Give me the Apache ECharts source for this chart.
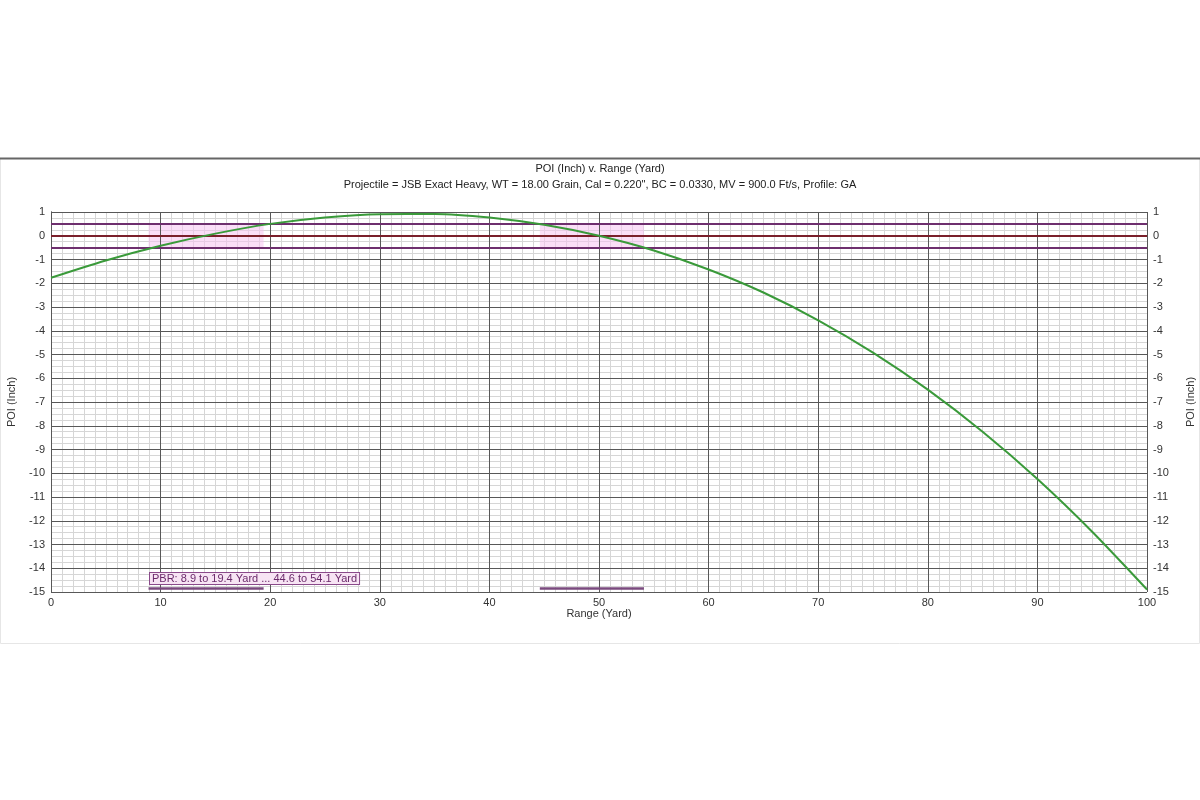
<!DOCTYPE html>
<html>
<head>
<meta charset="utf-8">
<script src="https://cdn.jsdelivr.net/npm/echarts@6/dist/echarts.min.js"></script>
<style>
html,body{margin:0;padding:0;background:#fff;}
#chart{width:1200px;height:800px;}
</style>
</head>
<body>
<div id="chart"></div>
<script>
// ---- data ----
const rangeYards = [0,5,10,15,20,25,30,35,40,45,50,55,60,65,70,75,80,85,90,95,100];
const poiInches  = [-1.77,-1.04,-0.42,0.09,0.50,0.77,0.91,0.92,0.77,0.46,0.0,-0.62,-1.42,-2.39,-3.56,-4.92,-6.48,-8.25,-10.24,-12.46,-14.9];
const pbrRanges  = [[8.9,19.4],[44.6,54.1]];
const pbrBand    = [-0.5,0.5];
const xTicks     = {min:0,max:100,step:10};
const yTicks     = {min:-15,max:1,step:1};
const titleText  = 'POI (Inch) v. Range (Yard)';
const subText    = 'Projectile = JSB Exact Heavy, WT = 18.00 Grain, Cal = 0.220", BC = 0.0330, MV = 900.0 Ft/s, Profile: GA';

const chart = echarts.init(document.getElementById('chart'), null, {renderer:'canvas'});
const font = 'Liberation Sans, Arial, sans-serif';
const pbrLabel = 'PBR: ' + pbrRanges.map(r => r[0].toFixed(1)+' to '+r[1].toFixed(1)+' Yard').join(' ... ');
const majorColor = '#585858';
const minorColor = '#d6d6d6';

const yBase = {
  type:'value', min:yTicks.min, max:yTicks.max, interval:yTicks.step,
  axisTick:{show:false},
  axisLabel:{color:'#333', fontSize:11, fontFamily:font, margin:6},
  nameTextStyle:{color:'#333', fontSize:11, fontFamily:font},
  nameLocation:'middle', nameRotate:90
};

chart.setOption({
  animation:false,
  backgroundColor:'#fff',
  title:[
    {text:titleText, left:'center', top:158, textStyle:{fontSize:11, fontWeight:'normal', color:'#222', fontFamily:font}},
    {text:subText, left:'center', top:174, textStyle:{fontSize:11, fontWeight:'normal', color:'#222', fontFamily:font}}
  ],
  graphic:[
    {type:'rect', left:0, top:158, z:-10, shape:{width:1199, height:485}, style:{fill:'#fff', stroke:'#e6e6e6', lineWidth:1}},
    {type:'line', z:-9, shape:{x1:0,y1:158.5,x2:1200,y2:158.5}, style:{stroke:'#666', lineWidth:2}},
    {type:'text', left:149, top:572, z:100,
      style:{text:pbrLabel, fill:'#6b2a6b', font:'11px '+font, backgroundColor:'#f7e4f4', borderColor:'#8a4a8a', borderWidth:1, padding:[0,2,0,2]}}
  ],
  grid:{left:51, right:53, top:212, bottom:208, containLabel:false, outerBoundsMode:'none'},
  xAxis:[
    {
      type:'value', min:xTicks.min, max:xTicks.max, interval:xTicks.step, position:'bottom', z:0,
      name:'Range (Yard)', nameLocation:'middle', nameGap:16,
      nameTextStyle:{color:'#333', fontSize:11, fontFamily:font},
      axisLine:{show:false},
      axisTick:{show:false},
      axisLabel:{color:'#333', fontSize:11, fontFamily:font, margin:5},
      splitLine:{show:false},
      minorTick:{show:false, splitNumber:10},
      minorSplitLine:{show:true, lineStyle:{color:minorColor, width:1}}
    },
    {
      type:'value', min:xTicks.min, max:xTicks.max, interval:xTicks.step, position:'top', z:3,
      axisLine:{show:false}, axisTick:{show:false}, axisLabel:{show:false},
      splitLine:{show:true, lineStyle:{color:majorColor, width:1}}
    }
  ],
  yAxis:[
    Object.assign({}, yBase, {position:'left', nameGap:34, name:'POI (Inch)', z:0,
      axisLine:{show:false},
      splitLine:{show:false},
      minorTick:{show:false, splitNumber:4},
      minorSplitLine:{show:true, lineStyle:{color:minorColor, width:1}}}),
    Object.assign({}, yBase, {position:'right', nameGap:38, name:'POI (Inch)', z:3,
      axisLine:{show:true, lineStyle:{color:majorColor}},
      splitLine:{show:true, lineStyle:{color:majorColor, width:1}}}),
    Object.assign({}, yBase, {position:'left', z:3, axisLabel:{show:false},
      axisLine:{show:true, lineStyle:{color:majorColor}}, splitLine:{show:false}})
  ],
  series:[
    {
      type:'line', xAxisIndex:0, yAxisIndex:0,
      data: rangeYards.map((x,i)=>[x, poiInches[i]]),
      smooth:0.3, showSymbol:false,
      lineStyle:{color:'#3a9a3a', width:2},
      z:10,
      markArea:{
        silent:true,
        itemStyle:{color:'rgba(245,195,240,0.55)'},
        data: pbrRanges.map(r => [{xAxis:r[0], yAxis:pbrBand[0]},{xAxis:r[1], yAxis:pbrBand[1]}])
      },
      markLine:{
        silent:true, symbol:'none', label:{show:false},
        data:[
          {yAxis:pbrBand[1], lineStyle:{color:'#6e2f6e', width:2, type:'solid'}},
          {yAxis:0, lineStyle:{color:'#7a1f2a', width:2, type:'solid'}},
          {yAxis:pbrBand[0], lineStyle:{color:'#6e2f6e', width:2, type:'solid'}}
        ].concat(pbrRanges.map(r => [
          {coord:[r[0], -14.85], lineStyle:{color:'#7a4a7e', width:2.5, type:'solid'}},
          {coord:[r[1], -14.85]}
        ]))
      }
    }
  ]
});
</script>
</body>
</html>
